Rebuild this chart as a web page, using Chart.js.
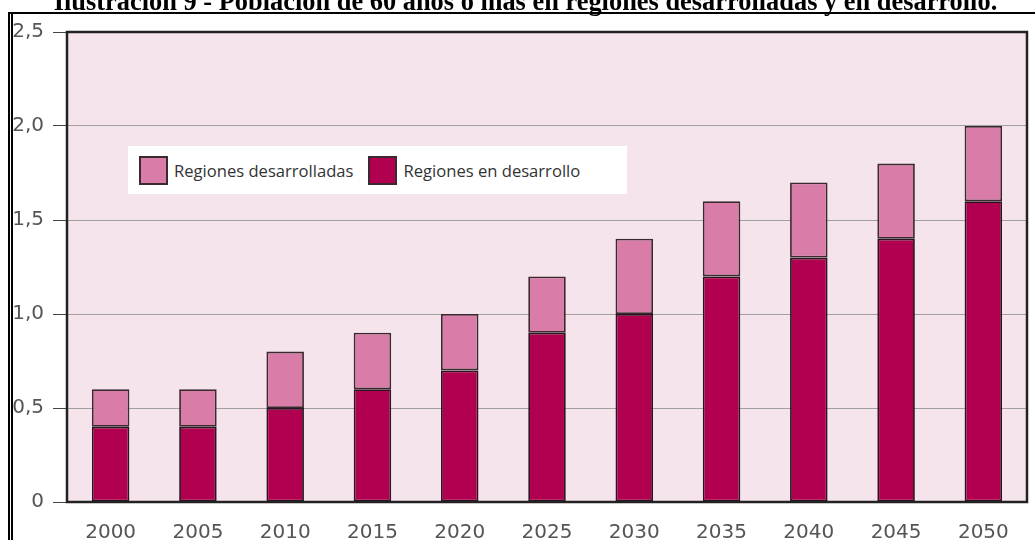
<!DOCTYPE html>
<html>
<head>
<meta charset="utf-8">
<script src="https://cdn.jsdelivr.net/npm/chart.js@4/dist/chart.umd.min.js"></script>
<style>
  body { margin: 0; background: #fff; }
  #wrap { position: relative; width: 1035px; height: 540px; overflow: hidden; }
  #title {
    position: absolute; left: 8px; width: 1035px; top: -14px; text-align: center; line-height: 26px;
    font: bold 26.4px "Liberation Serif", "Times New Roman", serif; color: #000; white-space: nowrap;
  }
  #frameTop { position: absolute; left: 9px; right: 0; top: 12px; height: 0; border-top: 2px solid #000; }
  #frameLeft { position: absolute; left: 8px; top: 12px; bottom: 0; width: 0; border-left: 5px double #000; }
  #legend {
    position: absolute; left: 128px; top: 146px; width: 499px; height: 48px; background: #fff;
    display: flex; align-items: center; font: 16.6px "Open Sans", sans-serif; color: #333;
  }
  .item { display: flex; align-items: center; margin-left: 11px; margin-right: 4px; }
  .sw { width: 29px; height: 29px; border: 2px solid #3a2a30; margin-right: 6px; box-sizing: border-box; }
  canvas { position: absolute; left: 0; top: 0; }
</style>
</head>
<body>
<div id="wrap">
  <canvas id="chart" width="1035" height="540"></canvas>
  <div id="title">Ilustración 9 - Población de 60 años o más en regiones desarrolladas y en desarrollo.</div>
  <div id="frameTop"></div>
  <div id="frameLeft"></div>
  <div id="legend"></div>
</div>
<script>
// data (miles de millones)
const years = ["2000", "2005", "2010", "2015", "2020", "2025", "2030", "2035", "2040", "2045", "2050"];
const enDesarrollo = [0.4, 0.4, 0.5, 0.6, 0.7, 0.9, 1.0, 1.2, 1.3, 1.4, 1.6];
const desarrolladas = [0.2, 0.2, 0.3, 0.3, 0.3, 0.3, 0.4, 0.4, 0.4, 0.4, 0.4];
const seriesNames = ["Regiones desarrolladas", "Regiones en desarrollo"];
const yTickLabels = ["0", "0,5", "1,0", "1,5", "2,0", "2,5"];

const colorDev = "#d97ca7";
const colorDeving = "#b0004f";

// legend as html
const legendEl = document.getElementById("legend");
[[seriesNames[0], colorDev], [seriesNames[1], colorDeving]].forEach(([name, c]) => {
  const it = document.createElement("div");
  it.className = "item";
  it.innerHTML = '<div class="sw" style="background:' + c + '"></div><span>' + name + "</span>";
  legendEl.appendChild(it);
});

const plotBox = {
  id: "plotBox",
  beforeDraw(chart) {
    const { ctx, chartArea: a } = chart;
    ctx.save();
    ctx.fillStyle = "#f6e4ed";
    ctx.fillRect(a.left, a.top, a.right - a.left, a.bottom - a.top);
    ctx.restore();
  },
  afterDatasetsDraw(chart) {
    const { ctx, chartArea: a } = chart;
    ctx.save();
    ctx.strokeStyle = "#222";
    ctx.lineWidth = 2.5;
    ctx.strokeRect(a.left, a.top, a.right - a.left, a.bottom - a.top);
    ctx.restore();
  },
};

new Chart(document.getElementById("chart"), {
  type: "bar",
  data: {
    labels: years,
    datasets: [
      {
        label: seriesNames[1],
        data: enDesarrollo,
        backgroundColor: colorDeving,
        borderColor: "#2a1420",
        borderWidth: 1.8,
        borderSkipped: false,
        categoryPercentage: 1,
        barPercentage: 0.43,
      },
      {
        label: seriesNames[0],
        data: desarrolladas,
        backgroundColor: colorDev,
        borderColor: "#3a2a30",
        borderWidth: 1.8,
        borderSkipped: false,
        categoryPercentage: 1,
        barPercentage: 0.43,
      },
    ],
  },
  options: {
    responsive: false,
    animation: false,
    layout: { padding: { top: 32, right: 8, left: 0, bottom: 0 } },
    plugins: { legend: { display: false }, tooltip: { enabled: false }, title: { display: false } },
    scales: {
      x: {
        stacked: true,
        grid: { display: false, drawTicks: false },
        border: { display: false },
        ticks: { color: "#555", padding: 19, font: { family: "DejaVu Sans", size: 20 } },
        afterFit(s) { s.height = 38; },
      },
      y: {
        stacked: true,
        min: 0,
        max: 2.5,
        grid: { color: "#a0a0a0", lineWidth: 1, tickLength: 14, tickColor: "#444" },
        border: { display: false },
        ticks: {
          stepSize: 0.5,
          padding: 9,
          color: "#555",
          font: { family: "DejaVu Sans", size: 20 },
          callback: (v, i) => yTickLabels[i],
        },
        afterFit(s) { s.width = 67; },
      },
    },
  },
  plugins: [plotBox],
});
</script>
</body>
</html>
